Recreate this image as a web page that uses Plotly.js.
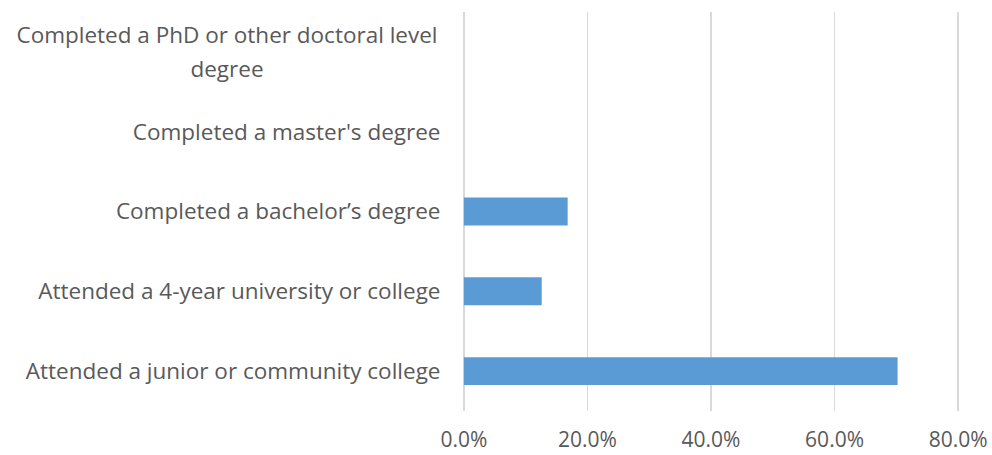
<!DOCTYPE html>
<html>
<head>
<meta charset="utf-8">
<script src="https://cdn.plot.ly/plotly-3.0.1.min.js"></script>
<style>html,body{margin:0;padding:0;background:#fff;}#chart{width:992px;height:455px;}</style>
</head>
<body>
<div id="chart"></div>
<script>
const categories = [
  "Attended a junior or community college",
  "Attended a 4-year university or college",
  "Completed a bachelor’s degree",
  "Completed a master's degree",
  "Completed a PhD or other doctoral level degree"
];
const tickLabels = [
  "Attended a junior or community college",
  "Attended a 4-year university or college",
  "Completed a bachelor’s degree",
  "Completed a master's degree",
  ""
];
const wrappedLines = ["Completed a PhD or other doctoral level", "degree"];
const values = [70.2, 12.6, 16.8, 0, 0];
const xTickVals = [0, 20, 40, 60, 80];
const xTickText = ["0.0%", "20.0%", "40.0%", "60.0%", "80.0%"];

const yFont = {family: "Open Sans, sans-serif", size: 22.5, color: "#595959"};
const xFont = {family: "Open Sans, sans-serif", size: 21, color: "#595959"};

Plotly.newPlot("chart", [{
  type: "bar",
  orientation: "h",
  y: categories,
  x: values,
  marker: {color: "#5b9bd5"},
  hoverinfo: "x+y"
}], {
  width: 992, height: 455,
  margin: {l: 462, r: 32, t: 12, b: 44},
  paper_bgcolor: "#fff", plot_bgcolor: "#fff",
  bargap: 0.65,
  showlegend: false,
  font: yFont,
  xaxis: {
    range: [-0.3, 80.3],
    tickvals: xTickVals, ticktext: xTickText,
    showgrid: true, gridcolor: "#d9d9d9", gridwidth: 1.5,
    zeroline: true, zerolinecolor: "#d9d9d9", zerolinewidth: 1.5,
    showline: false,
    ticks: "outside", ticklen: 10, tickcolor: "rgba(0,0,0,0)",
    tickfont: xFont, fixedrange: true
  },
  yaxis: {
    type: "category",
    categoryorder: "array", categoryarray: categories,
    tickvals: categories, ticktext: tickLabels,
    showgrid: false, zeroline: false, showline: false,
    ticks: "outside", ticklen: 16, tickcolor: "rgba(0,0,0,0)",
    tickfont: yFont, fixedrange: true
  },
  annotations: wrappedLines.map((t, i) => ({
    xref: "paper", yref: "y",
    x: 0, y: categories[4],
    xanchor: "right", yanchor: "middle", xshift: -17,
    yshift: i === 0 ? 17 : -17,
    width: 432, align: "center", showarrow: false,
    text: t, font: yFont
  }))
}, {displayModeBar: false, staticPlot: true});
</script>
</body>
</html>
